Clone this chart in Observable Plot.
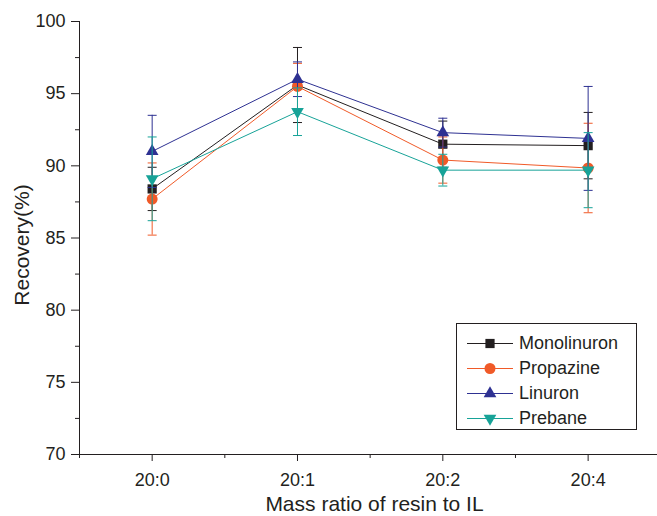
<!DOCTYPE html>
<html>
<head>
<meta charset="utf-8">
<script src="https://cdn.jsdelivr.net/npm/d3@7"></script>
<script src="https://cdn.jsdelivr.net/npm/@observablehq/plot@0.6"></script>
<style>
  body { margin: 0; background: #fff; }
  #chart { position: relative; width: 657px; height: 516px; font-family: "Liberation Sans", Arial, Helvetica, sans-serif; color: #231f20; }
  #legend { position: absolute; left: 456px; top: 323px; }
</style>
</head>
<body>
<div id="chart"></div>
<script>
// Mass ratio categories (x axis)
const ratios = ["20:0", "20:1", "20:2", "20:4"];

// Recovery (%) and error for each herbicide
const compounds = ["Monolinuron", "Propazine", "Linuron", "Prebane"];
const monolinuron    = [88.4, 95.6, 91.5, 91.4];
const monolinuronErr = [1.5, 2.6, 1.6, 2.3];
const propazine      = [87.7, 95.5, 90.4, 89.85];
const propazineErr   = [2.5, 1.6, 1.6, 3.1];
const linuron        = [91.0, 96.0, 92.3, 91.9];
const linuronErr     = [2.5, 1.2, 1.0, 3.6];
const prebane        = [89.1, 93.75, 89.7, 89.7];
const prebaneErr     = [2.9, 1.65, 1.1, 2.6];

const yTicks = [70, 75, 80, 85, 90, 95, 100];
const yMinorTicks = [72.5, 77.5, 82.5, 87.5, 92.5, 97.5];
const xTitle = "Mass ratio of resin to IL";
const yTitle = "Recovery(%)";

const colors = ["#231f20", "#f05a28", "#2e3192", "#17a398"];

// Custom marker shapes
const triangleDown = {
  draw(ctx, size) {
    const y = -Math.sqrt(size / (Math.sqrt(3) * 3));
    ctx.moveTo(0, -y * 2);
    ctx.lineTo(-Math.sqrt(3) * y, y);
    ctx.lineTo(Math.sqrt(3) * y, y);
    ctx.closePath();
  }
};
const capSymbol = {
  draw(ctx, size) {
    const w = Math.sqrt(size / Math.PI);
    ctx.moveTo(-w, 0);
    ctx.lineTo(w, 0);
  }
};
const symbols = [d3.symbolSquare, d3.symbolCircle, d3.symbolTriangle, triangleDown];
const symbolR = [5.2, 5.5, 4.7, 4.7];

const seriesValues = [monolinuron, propazine, linuron, prebane];
const seriesErrors = [monolinuronErr, propazineErr, linuronErr, prebaneErr];
const series = compounds.map((name, k) => ({
  name,
  color: colors[k],
  symbol: symbols[k],
  r: symbolR[k],
  rows: ratios.map((ratio, i) => ({
    i, ratio,
    value: seriesValues[k][i],
    lo: seriesValues[k][i] - seriesErrors[k][i],
    hi: seriesValues[k][i] + seriesErrors[k][i]
  }))
}));

const fontSize = 18;
const marks = [
  Plot.axisY({ticks: yMinorTicks, tickSize: 4, tickFormat: () => "", label: null}),
  Plot.axisY({ticks: yTicks, tickSize: 8, tickPadding: 6, fontSize, label: null}),
  Plot.axisX({ticks: [-0.5, 0.5, 1.5, 2.5, 3.5], tickSize: 4, tickFormat: () => "", label: null}),
  Plot.axisX({ticks: [0, 1, 2, 3], tickSize: 7, tickPadding: 12, tickFormat: i => ratios[i], fontSize, label: null}),
  Plot.ruleX([-0.5], {stroke: "#231f20"}),
  Plot.ruleY([70], {stroke: "#231f20"}),
  Plot.text([xTitle], {frameAnchor: "bottom", text: d => d, textAnchor: "middle", lineAnchor: "bottom", dx: 6, dy: 56, fontSize: 21}),
  Plot.text([yTitle], {frameAnchor: "left", text: d => d, textAnchor: "middle", lineAnchor: "bottom", rotate: -90, dx: -50.5, dy: 7, fontSize: 21})
];

for (const s of series) {
  marks.push(
    Plot.line(s.rows, {x: "i", y: "value", stroke: s.color, strokeWidth: 1}),
    Plot.ruleX(s.rows, {x: "i", y1: "lo", y2: "hi", stroke: s.color, strokeWidth: 1}),
    Plot.dot(s.rows, {x: "i", y: "lo", symbol: capSymbol, r: 4.5, stroke: s.color, strokeWidth: 1, fill: "none"}),
    Plot.dot(s.rows, {x: "i", y: "hi", symbol: capSymbol, r: 4.5, stroke: s.color, strokeWidth: 1, fill: "none"}),
    Plot.dot(s.rows, {x: "i", y: "value", symbol: s.symbol, r: s.r, fill: s.color, stroke: "none"})
  );
}

const chart = Plot.plot({
  width: 657,
  height: 516,
  marginLeft: 79,
  marginRight: 0,
  marginTop: 21,
  marginBottom: 62,
  style: {fontFamily: "'Liberation Sans', Arial, Helvetica, sans-serif", color: "#231f20", background: "#fff"},
  x: {type: "linear", domain: [-0.5, 3.5], range: [79, 660.3]},
  y: {type: "linear", domain: [70, 100], range: [454, 21]},
  marks
});
const root = document.getElementById("chart");
root.appendChild(chart);

// Legend box in the lower right of the plot area
const lw = 181, lh = 107;
const legend = d3.select(root).append("svg")
  .attr("id", "legend")
  .attr("width", lw)
  .attr("height", lh);
legend.append("rect")
  .attr("x", 0.5).attr("y", 0.5)
  .attr("width", lw - 1).attr("height", lh - 1)
  .attr("fill", "#fff").attr("stroke", "#231f20");
const item = legend.selectAll("g.item").data(series).join("g")
  .attr("class", "item")
  .attr("transform", (d, k) => `translate(0,${20 + k * 25})`);
item.append("line")
  .attr("x1", 11).attr("x2", 57).attr("y1", 0.5).attr("y2", 0.5)
  .attr("stroke", d => d.color).attr("stroke-width", 1);
item.append("path")
  .attr("transform", "translate(34,0.5)")
  .attr("d", d => d3.symbol(d.symbol, d.r * d.r * Math.PI)())
  .attr("fill", d => d.color);
item.append("text")
  .attr("x", 63).attr("y", 0)
  .attr("dy", "0.35em")
  .attr("font-size", fontSize)
  .attr("fill", "#231f20")
  .text(d => d.name);
</script>
</body>
</html>
